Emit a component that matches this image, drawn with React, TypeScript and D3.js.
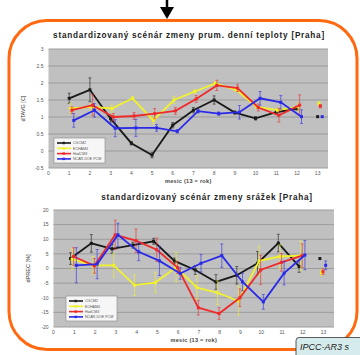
import React from "react";
import * as d3 from "d3";

// models shown in the legend (black, yellow, red, blue)
const models = ["CGCM2", "ECHAM4", "HadCM3", "NCAR-DOE PCM"];
const colors = ["#1a1a1a", "#f2f22a", "#ee2a2a", "#2a2ae8"];
const months = d3.range(1, 14); // 13 = year

// temperature change [C]
const tempValues = [
  [1.55, 1.8, 0.95, 0.23, -0.12, 0.76, 1.2, 1.5, 1.13, 0.96, 1.14, 1.25, 1.01],
  [1.25, 1.3, 1.25, 1.55, 0.9, 1.5, 1.75, 1.99, 1.8, 1.3, 1.2, 1.3, 1.4],
  [1.2, 1.35, 1.0, 1.03, 1.1, 1.18, 1.53, 1.93, 1.85, 1.28, 1.05, 1.35, 1.32],
  [0.9, 1.2, 0.67, 0.68, 0.68, 0.58, 1.17, 1.1, 1.14, 1.55, 1.43, 1.01, 1.01],
];
const tempErrors = [
  [0.15, 0.35, 0.1, 0.05, 0.08, 0.08, 0.08, 0.12, 0.05, 0.05, 0.05, 0.05, 0],
  [0.15, 0.1, 0.1, 0.05, 0.1, 0.1, 0.05, 0.05, 0.05, 0.05, 0.05, 0.1, 0.05],
  [0.1, 0.3, 0.1, 0.1, 0.15, 0.1, 0.1, 0.15, 0.1, 0.1, 0.2, 0.3, 0.05],
  [0.2, 0.2, 0.25, 0.25, 0.1, 0.05, 0.05, 0.05, 0.2, 0.2, 0.2, 0.2, 0],
];
const tempTicks = [-0.5, 0, 0.5, 1, 1.5, 2, 2.5, 3];

// precipitation change [%]
const precValues = [
  [3.4, 8.6, 6.7, 8.0, 9.3, 2.6, -0.5, -4.6, -2.3, 1.8, 8.7, 0.7, 3.4],
  [3.2, 1.1, 1.1, -5.7, -4.8, 0.4, -6.5, -8.3, -11.1, 2.6, 4.1, 4.4, -1.4],
  [4.1, 0.9, 11.5, 9.5, 6.4, 0.3, -13.4, -15.4, -10.0, -0.5, 2.1, 4.4, -1.1],
  [1.1, 1.5, 11.5, 5.7, 2.6, -1.7, 1.8, 4.4, -4.6, -11.4, -1.6, 4.6, 1.1],
];
const precErrors = [
  [2, 3, 1.5, 1, 1, 1, 1.5, 2.5, 3, 4, 3, 2, 0],
  [3.5, 3, 4, 3.5, 3.5, 5, 4, 4, 5, 5, 4, 5, 1],
  [3, 2.5, 5, 4, 4, 2, 2.5, 2, 3, 5, 3, 4, 1],
  [6, 5, 4, 3, 5, 2, 3, 4, 3, 2.5, 4, 5, 1.5],
];
const precTicks = [-20, -15, -10, -5, 0, 5, 10, 15, 20];
const xTicks = d3.range(0, 14);

type ChartProps = {
  title: string;
  yTitle: string;
  values: number[][];
  errors: number[][];
  yTicks: number[];
  offsets: number[];
  box: { x0: number; x1: number; y0: number; y1: number };
  titleX: number;
  titleY: number;
  legend: { x: number; y: number };
};

const Chart = ({ title, yTitle, values, errors, yTicks, offsets, box, titleX, titleY, legend }: ChartProps) => {
  const x = d3.scaleLinear().domain([0, 13.5]).range([box.x0, box.x1]);
  const y = d3
    .scaleLinear()
    .domain([yTicks[0], yTicks[yTicks.length - 1]])
    .range([box.y1, box.y0]);
  const line = d3
    .line<number>()
    .x((d, i) => x(months[i]))
    .y((d) => y(d));
  const font = "Arial, 'Liberation Sans', sans-serif";

  return (
    <g fontFamily={font}>
      <text
        x={titleX}
        y={titleY}
        textAnchor="middle"
        fontSize={8.2}
        fontWeight="bold"
        letterSpacing={0.75}
        fill="#222"
      >
        {title}
      </text>
      <rect x={box.x0} y={box.y0} width={box.x1 - box.x0} height={box.y1 - box.y0} fill="#c0c0c0" />
      {yTicks.map((t) => (
        <g key={t}>
          <line x1={box.x0} x2={box.x1} y1={y(t)} y2={y(t)} stroke="#9c9c9c" strokeWidth={1} />
          <text x={box.x0 - 5} y={y(t) + 1.8} textAnchor="end" fontSize={5} fill="#555">
            {t}
          </text>
        </g>
      ))}
      {xTicks.map((t) => (
        <text key={t} x={x(t)} y={box.y1 + 6.5} textAnchor="middle" fontSize={5} fill="#555">
          {t}
        </text>
      ))}
      <text
        x={(box.x0 + box.x1) / 2}
        y={box.y1 + 14.5}
        textAnchor="middle"
        fontSize={5.5}
        fontWeight="bold"
        letterSpacing={0.3}
        fill="#444"
      >
        mesic (13 = rok)
      </text>
      <text
        transform={`translate(${box.x0 - 24},${(box.y0 + box.y1) / 2}) rotate(-90)`}
        textAnchor="middle"
        fontSize={5.5}
        fill="#333"
      >
        {yTitle}
      </text>

      {values.map((vals, s) => {
        const dx = offsets[s];
        return (
          <g key={s} transform={`translate(${x(dx) - x(0)},0)`}>
            {vals.map((v, i) => {
              const e = errors[s][i];
              if (!e) return null;
              return (
                <g key={i} stroke={colors[s]} strokeWidth={0.8} opacity={0.75}>
                  <line x1={x(months[i])} x2={x(months[i])} y1={y(v - e)} y2={y(v + e)} />
                  <line x1={x(months[i]) - 1.5} x2={x(months[i]) + 1.5} y1={y(v - e)} y2={y(v - e)} />
                  <line x1={x(months[i]) - 1.5} x2={x(months[i]) + 1.5} y1={y(v + e)} y2={y(v + e)} />
                </g>
              );
            })}
            <path d={line(vals.slice(0, 12)) ?? ""} fill="none" stroke={colors[s]} strokeWidth={1.8} />
            {vals.map((v, i) => (
              <rect
                key={i}
                x={x(months[i]) - 1.5}
                y={y(v) - 1.5}
                width={3}
                height={3}
                fill={colors[s]}
              />
            ))}
          </g>
        );
      })}

      <g transform={`translate(${legend.x},${legend.y})`}>
        <rect x={0} y={0} width={51} height={25} fill="#f6f6f6" stroke="#888" strokeWidth={0.6} />
        {models.map((m, i) => (
          <g key={m} transform={`translate(0,${5 + i * 5.3})`}>
            <line x1={3} x2={17} y1={0} y2={0} stroke={colors[i]} strokeWidth={1.6} />
            <rect x={8.5} y={-1.2} width={2.4} height={2.4} fill={colors[i]} />
            <text x={19} y={1.3} fontSize={3.6} fill="#555">
              {m}
            </text>
          </g>
        ))}
      </g>
    </g>
  );
};

const App = () => {
  return (
    <svg
      width={360}
      height={355}
      style={{ position: "absolute", left: 0, top: 0, background: "#fff" }}
    >
      {/* arrow from above */}
      <line x1={167} x2={167} y1={0} y2={10} stroke="#000" strokeWidth={2.5} />
      <path d="M160,7 L174,7 L167,19 Z" fill="#000" />

      <rect x={9} y={20.5} width={348} height={329} rx={38} ry={38} fill="#fff" stroke="#ff6a10" strokeWidth={3} />

      <Chart
        title="standardizovaný scénár zmeny prum. denní teploty [Praha]"
        yTitle="dTAVG [C]"
        values={tempValues}
        errors={tempErrors}
        yTicks={tempTicks}
        offsets={[0, 0.06, 0.13, 0.22]}
        box={{ x0: 48.5, x1: 328, y0: 49, y1: 168 }}
        titleX={189}
        titleY={38}
        legend={{ x: 54, y: 138 }}
      />
      <Chart
        title="standardizovaný scénár zmeny srážek [Praha]"
        yTitle="dPREC [%]"
        values={precValues}
        errors={precErrors}
        yTicks={precTicks}
        offsets={[-0.18, -0.1, -0.03, 0.1]}
        box={{ x0: 53.5, x1: 334, y0: 210, y1: 327 }}
        titleX={207}
        titleY={200}
        legend={{ x: 66, y: 296 }}
      />

      {/* caption box */}
      <rect x={296} y={337.5} width={80} height={22} rx={3} fill="#d6ecec" stroke="#333" strokeWidth={0.8} />
      <text x={300} y={349.5} fontSize={9} fontStyle="italic" fontFamily="Arial, 'Liberation Sans', sans-serif" fill="#222">
        IPCC-AR3 s
      </text>
    </svg>
  );
};

export default App;
